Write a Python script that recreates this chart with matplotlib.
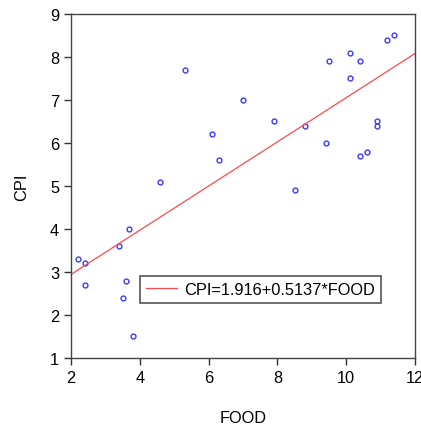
import numpy as np
import matplotlib
matplotlib.use('Agg')
import matplotlib.pyplot as plt

plt.rcParams['font.family'] = ['Liberation Sans', 'DejaVu Sans']

# scatter data
food = [2.2, 2.4, 2.4, 3.4, 3.5, 3.6, 3.7, 3.8, 4.6, 5.3, 6.1, 6.3, 7.0, 7.9,
        8.5, 8.8, 9.4, 9.5, 10.1, 10.1, 10.4, 10.4, 10.6, 10.9, 10.9, 11.2, 11.4]
cpi = [3.3, 3.2, 2.7, 3.6, 2.4, 2.8, 4.0, 1.5, 5.1, 7.7, 6.2, 5.6, 7.0, 6.5,
       4.9, 6.4, 6.0, 7.9, 8.1, 7.5, 7.9, 5.7, 5.8, 6.5, 6.4, 8.4, 8.5]

# fitted line
intercept = 1.916
slope = 0.5137
fit_x = np.array([2, 12])

fs = 11.8

fig = plt.figure(figsize=(4.21, 4.27), dpi=100)
ax = fig.add_axes([0.1686, 0.1593, 0.8171, 0.8056])

ax.plot(food, cpi, linestyle='none', marker='o', markersize=3.5,
        markerfacecolor='none', markeredgecolor='#3a3aff', markeredgewidth=1.0)
ax.plot(fit_x, intercept + slope * fit_x, color='#ff4a4a', linewidth=0.9,
        label='CPI=1.916+0.5137*FOOD')

ax.set_xlim(2, 12)
ax.set_ylim(1, 9)
ax.set_xticks([2, 4, 6, 8, 10, 12])
ax.set_yticks(range(1, 10))
ax.tick_params(direction='out', length=5, width=1, colors='#333333',
               labelcolor='black', labelsize=fs, top=False, right=False)
for s in ax.spines.values():
    s.set_color('#444444')
    s.set_linewidth(1.0)

ax.set_xlabel('FOOD', fontsize=fs, labelpad=18)
ax.set_ylabel('CPI', fontsize=fs, labelpad=15)

leg = ax.legend(loc='center left', bbox_to_anchor=(0.2, 0.199), fontsize=fs,
                fancybox=False, framealpha=1, edgecolor='#555555',
                handlelength=1.9, borderpad=0.35, handletextpad=0.45,
                borderaxespad=0)
leg.get_frame().set_linewidth(1.2)

plt.savefig('out.png', dpi=100)
